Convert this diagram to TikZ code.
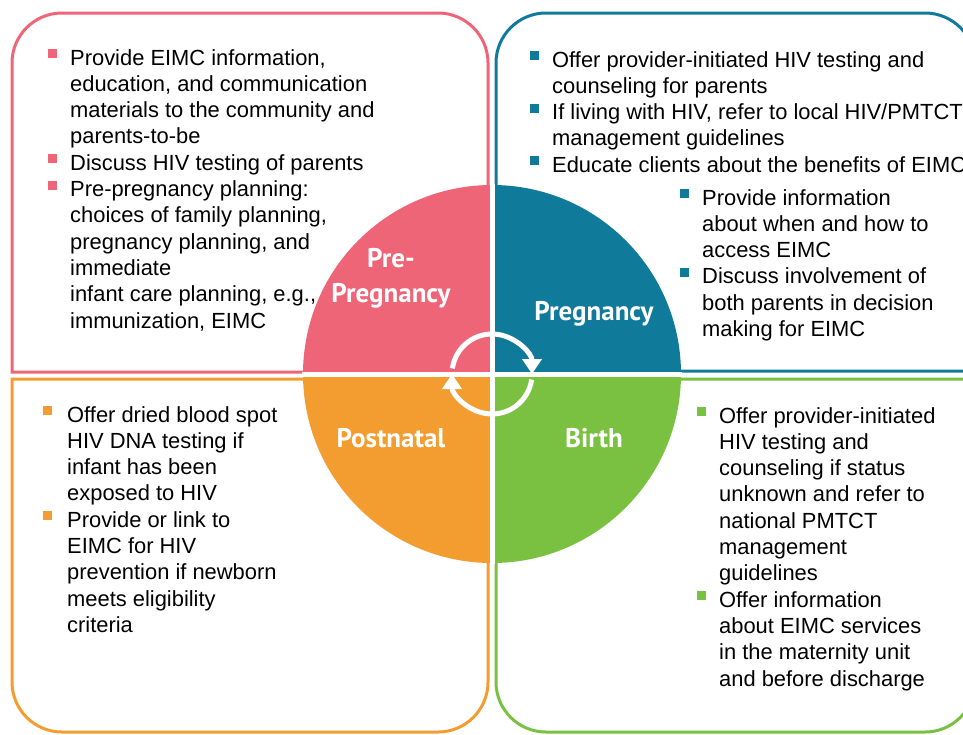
\documentclass[tikz,border=0pt]{standalone}
\usepackage{fontspec}
\setmainfont{Liberation Sans}
\newfontfamily\stagefont{PT Sans}
\usetikzlibrary{arrows.meta}

\definecolor{prepink}{HTML}{EF6578}
\definecolor{pregblue}{HTML}{107A9A}
\definecolor{postorange}{HTML}{F39C30}
\definecolor{birthgreen}{HTML}{7AC142}

\newcommand{\sqbul}[1]{\textcolor{#1}{\rule[7pt]{9pt}{9pt}}}

\begin{document}
\begin{tikzpicture}[x=1pt, y=1pt,
  panel/.style={line width=3pt},
  cyc/.style={draw=white, line width=5pt, -{Triangle[width=19pt,length=15pt]}},
  stage/.style={text=white, font=\stagefont\bfseries\fontsize{27}{35}\selectfont, inner sep=0pt, align=center, anchor=base},
  items/.style={inner sep=0pt, anchor=base west, font=\fontsize{21.9}{26.3}\selectfont}]
  \clip (0,0) rectangle (963,-734);

  % the four panels
  \draw[panel, prepink] (12,-372) -- (12,-63) arc (180:90:50) -- (438,-13) arc (90:0:50) -- (488,-372) -- cycle;
  \draw[panel, pregblue] (496,-371) -- (496,-63) arc (180:90:50) -- (925,-13) arc (90:0:50) -- (975,-371) -- cycle;
  \draw[panel, postorange] (12,-379) -- (488,-379) -- (488,-682) arc (0:-90:50) -- (62,-732) arc (270:180:50) -- cycle;
  \draw[panel, birthgreen] (975,-379) -- (496,-379) -- (496,-682) arc (180:270:50) -- (925,-732) arc (-90:0:50) -- cycle;

  % the wheel
  \coordinate (ctr) at (492,-374);
  \fill[prepink] (ctr) -- ++(180:189) arc (180:90:189) -- cycle;
  \fill[pregblue] (ctr) -- ++(90:189) arc (90:0:189) -- cycle;
  \fill[birthgreen] (ctr) -- ++(0:189) arc (0:-90:189) -- cycle;
  \fill[postorange] (ctr) -- ++(-90:189) arc (-90:-180:189) -- cycle;
  \draw[white, line width=5pt] ([yshift=190pt]ctr) -- ([yshift=-190pt]ctr);
  \draw[white, line width=5pt] ([xshift=-190pt]ctr) -- ([xshift=190pt]ctr);

  \draw[cyc] ([shift={(172:40)}]ctr) arc (172:0:40);
  \draw[cyc] ([shift={(-8:40)}]ctr) arc (-8:-180:40);

  \node[stage] (prepreg) at (391,-302) {Pre-\\Pregnancy};
  \node[stage] (preg) at (594,-320) {Pregnancy};
  \node[stage] (postnatal) at (391,-447) {Postnatal};
  \node[stage] (birth) at (594,-447) {Birth};

  % panel texts
  \node[items] (pretext) at (48,-65) {\begin{tabular}[t]{@{}p{22pt}@{}l@{}}
    \sqbul{prepink} & Provide EIMC information,\\
    & education, and communication\\
    & materials to the community and\\
    & parents-to-be\\
    \sqbul{prepink} & Discuss HIV testing of parents\\
    \sqbul{prepink} & Pre-pregnancy planning:\\
    & choices of family planning,\\
    & pregnancy planning, and\\
    & immediate\\
    & infant care planning, e.g.,\\
    & immunization, EIMC
  \end{tabular}};

  \node[items] (pregtext) at (530,-67) {\begin{tabular}[t]{@{}p{22pt}@{}l@{}}
    \sqbul{pregblue} & Offer provider-initiated HIV testing and\\
    & counseling for parents\\
    \sqbul{pregblue} & If living with HIV, refer to local HIV/PMTCT\\
    & management guidelines\\
    \sqbul{pregblue} & Educate clients about the benefits of EIMC
  \end{tabular}};

  \node[items] (pregmore) at (680,-205) {\begin{tabular}[t]{@{}p{22pt}@{}l@{}}
    \sqbul{pregblue} & Provide information\\
    & about when and how to\\
    & access EIMC\\
    \sqbul{pregblue} & Discuss involvement of\\
    & both parents in decision\\
    & making for EIMC
  \end{tabular}};

  \node[items] (posttext) at (43,-422) {\begin{tabular}[t]{@{}p{24pt}@{}l@{}}
    \sqbul{postorange} & Offer dried blood spot\\
    & HIV DNA testing if\\
    & infant has been\\
    & exposed to HIV\\
    \sqbul{postorange} & Provide or link to\\
    & EIMC for HIV\\
    & prevention if newborn\\
    & meets eligibility\\
    & criteria
  \end{tabular}};

  \node[items] (birthtext) at (697,-423) {\begin{tabular}[t]{@{}p{22pt}@{}l@{}}
    \sqbul{birthgreen} & Offer provider-initiated\\
    & HIV testing and\\
    & counseling if status\\
    & unknown and refer to\\
    & national PMTCT\\
    & management\\
    & guidelines\\
    \sqbul{birthgreen} & Offer information\\
    & about EIMC services\\
    & in the maternity unit\\
    & and before discharge
  \end{tabular}};
\end{tikzpicture}
\end{document}
